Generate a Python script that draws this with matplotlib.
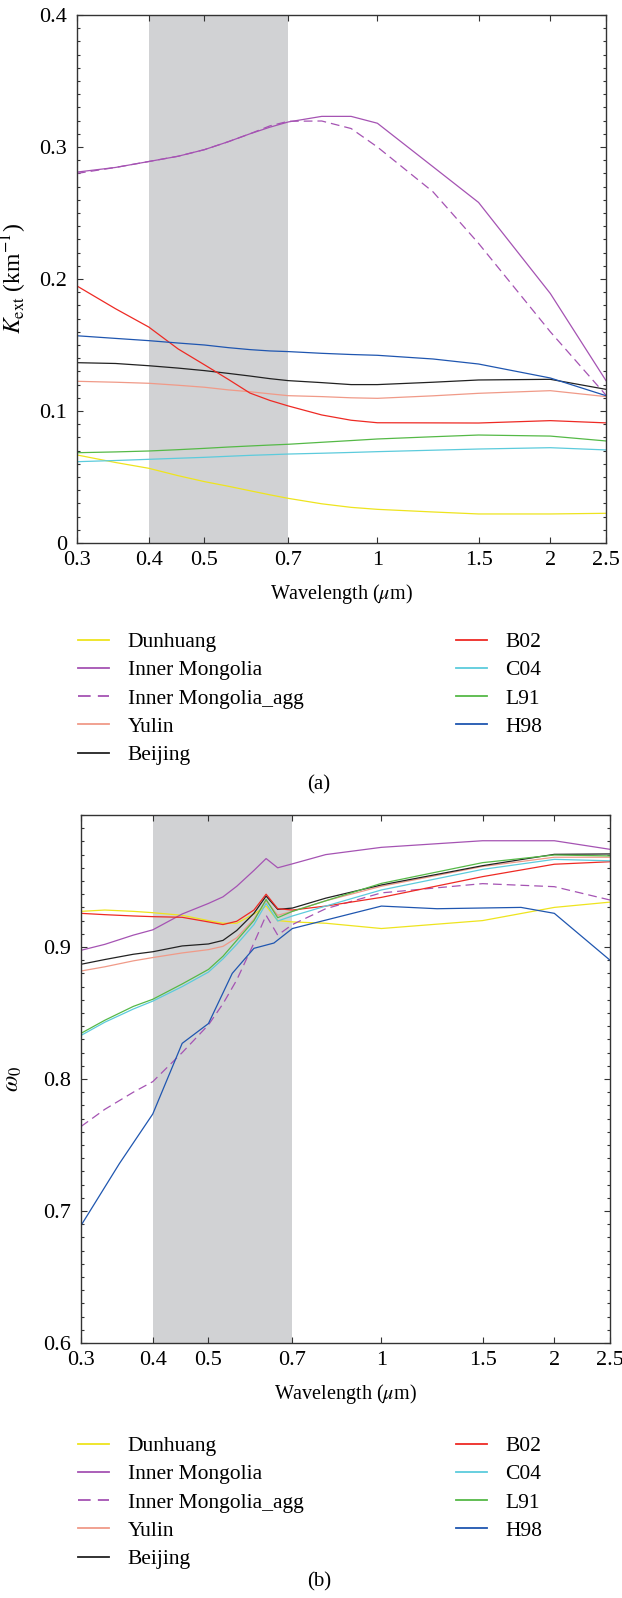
import numpy as np
import matplotlib
matplotlib.use("Agg")
import matplotlib.pyplot as plt
from matplotlib.ticker import MultipleLocator, NullLocator, FixedLocator, FixedFormatter

plt.rcParams['font.family'] = ['Liberation Serif', 'DejaVu Serif']
plt.rcParams['mathtext.fontset'] = 'stix'

# ---- panel (a): extinction coefficient ----
wl_a = [0.3, 0.35, 0.4, 0.45, 0.5, 0.55, 0.6, 0.65, 0.7, 0.8, 0.9, 1.0, 1.25, 1.5, 2.0, 2.5]
kext_dunhuang = [0.0667, 0.061, 0.0566, 0.051, 0.0465, 0.043, 0.0396, 0.0365, 0.0338, 0.0297, 0.027, 0.0255, 0.0235, 0.022, 0.022, 0.0225]
kext_inner = [0.281, 0.2845, 0.289, 0.293, 0.298, 0.304, 0.310, 0.315, 0.319, 0.3232, 0.3232, 0.318, 0.285, 0.258, 0.189, 0.123]
kext_inner_agg = [0.280, 0.2845, 0.289, 0.293, 0.298, 0.304, 0.310, 0.316, 0.3195, 0.3197, 0.314, 0.300, 0.266, 0.227, 0.160, 0.112]
kext_yulin = [0.1225, 0.1218, 0.121, 0.1195, 0.118, 0.116, 0.1146, 0.113, 0.1116, 0.1109, 0.110, 0.1096, 0.1115, 0.1134, 0.1154, 0.1109]
kext_beijing = [0.1366, 0.136, 0.1343, 0.1325, 0.1306, 0.1285, 0.1265, 0.1245, 0.123, 0.1215, 0.120, 0.120, 0.1218, 0.1235, 0.124, 0.1164]
kext_b02 = [0.1947, 0.1775, 0.1636, 0.147, 0.135, 0.124, 0.1136, 0.108, 0.1038, 0.097, 0.093, 0.0911, 0.091, 0.0909, 0.0927, 0.091]
kext_c04 = [0.0616, 0.0625, 0.0634, 0.0642, 0.0649, 0.0657, 0.0664, 0.0669, 0.0674, 0.068, 0.0686, 0.0692, 0.0703, 0.0712, 0.0722, 0.0705]
kext_l91 = [0.0684, 0.069, 0.0697, 0.0707, 0.0717, 0.0727, 0.0735, 0.0742, 0.0748, 0.0763, 0.0776, 0.0788, 0.0805, 0.0818, 0.081, 0.0773]
kext_h98 = [0.157, 0.155, 0.1533, 0.1515, 0.150, 0.148, 0.1465, 0.1455, 0.145, 0.1437, 0.1428, 0.1422, 0.1394, 0.1356, 0.125, 0.1116]

# ---- panel (b): single scattering albedo ----
wl_b = [0.3, 0.33, 0.37, 0.4, 0.45, 0.5, 0.53, 0.56, 0.6, 0.63, 0.66, 0.7, 0.8, 1.0, 1.5, 2.0, 2.5]
w0_dunhuang = [0.927, 0.928, 0.927, 0.926, 0.924, 0.920, 0.918, 0.918, 0.925, 0.931, 0.920, 0.919, 0.918, 0.914, 0.920, 0.930, 0.934]
w0_inner = [0.8975, 0.902, 0.909, 0.913, 0.925, 0.933, 0.938, 0.946, 0.958, 0.967, 0.960, 0.963, 0.970, 0.9755, 0.9805, 0.9805, 0.974]
w0_inner_agg = [0.764, 0.777, 0.790, 0.798, 0.820, 0.841, 0.857, 0.875, 0.903, 0.924, 0.909, 0.917, 0.929, 0.941, 0.948, 0.9457, 0.9356]
w0_yulin = [0.8818, 0.885, 0.8895, 0.892, 0.8955, 0.898, 0.9005, 0.907, 0.921, 0.935, 0.924, 0.927, 0.935, 0.946, 0.961, 0.968, 0.968]
w0_beijing = [0.8869, 0.8905, 0.8945, 0.8964, 0.9008, 0.9023, 0.905, 0.9125, 0.9255, 0.9386, 0.9285, 0.9295, 0.937, 0.947, 0.9616, 0.9702, 0.9705]
w0_b02 = [0.9255, 0.9245, 0.9235, 0.923, 0.9225, 0.919, 0.917, 0.9195, 0.928, 0.940, 0.929, 0.928, 0.931, 0.9376, 0.9533, 0.9627, 0.9646]
w0_c04 = [0.833, 0.843, 0.853, 0.859, 0.870, 0.881, 0.891, 0.902, 0.917, 0.933, 0.9197, 0.9235, 0.931, 0.9432, 0.9588, 0.9664, 0.9653]
w0_l91 = [0.8346, 0.8445, 0.855, 0.8604, 0.872, 0.883, 0.893, 0.905, 0.920, 0.936, 0.9222, 0.927, 0.935, 0.9482, 0.9639, 0.9697, 0.969]
wl_h98_b = [0.3, 0.35, 0.4, 0.45, 0.5, 0.55, 0.6, 0.65, 0.7, 1.0, 1.25, 1.75, 2.0, 2.5]
w0_h98 = [0.689, 0.736, 0.7735, 0.827, 0.842, 0.880, 0.899, 0.903, 0.914, 0.931, 0.929, 0.930, 0.9255, 0.890]

labels = ['Dunhuang', 'Inner Mongolia', 'Inner Mongolia_agg', 'Yulin', 'Beijing',
          'B02', 'C04', 'L91', 'H98']
colors = ['#eee41e', '#a553b3', '#a553b3', '#f09a88', '#222222',
          '#ee2a24', '#5ccbdc', '#55b947', '#1f56b0']
styles = ['-', '-', '--', '-', '-', '-', '-', '-', '-']

xticks = [0.3, 0.4, 0.5, 0.7, 1, 1.5, 2, 2.5]
xticklabels = ['0.3', '0.4', '0.5', '0.7', '1', '1.5', '2', '2.5']

fig = plt.figure(figsize=(6.22, 15.98), dpi=100)
ax_a = fig.add_axes([77/622, 1-543/1598, 529/622, 528/1598])
ax_b = fig.add_axes([81/622, 1-1343/1598, 529/622, 528/1598])

series_a = [kext_dunhuang, kext_inner, kext_inner_agg, kext_yulin, kext_beijing,
            kext_b02, kext_c04, kext_l91, kext_h98]
series_b = [w0_dunhuang, w0_inner, w0_inner_agg, w0_yulin, w0_beijing,
            w0_b02, w0_c04, w0_l91, w0_h98]
xs_b = [wl_b] * 8 + [wl_h98_b]


def style_axis(ax, ylim, ymajor, ylabels):
    ax.axvspan(0.4, 0.7, color='#d1d2d4', lw=0, zorder=0)
    ax.set_xscale('log')
    ax.set_xlim(0.3, 2.5)
    ax.set_ylim(*ylim)
    ax.xaxis.set_major_locator(FixedLocator(xticks))
    ax.xaxis.set_major_formatter(FixedFormatter(xticklabels))
    ax.xaxis.set_minor_locator(NullLocator())
    ax.set_yticks(ymajor)
    ax.set_yticklabels(ylabels)
    ax.yaxis.set_minor_locator(MultipleLocator(0.01))
    ax.tick_params(which='both', direction='in', top=True, right=True,
                   color='#333333', width=0.8, labelsize=16)
    ax.tick_params(which='major', length=4)
    ax.tick_params(which='minor', length=2.5)
    ax.tick_params(axis='y', pad=7)
    ax.tick_params(axis='x', pad=6)
    for sp in ax.spines.values():
        sp.set_color('#333333')
        sp.set_linewidth(1.0)
    ax.set_xlabel(r'Wavelength ($\mu$m)', fontsize=14.5)
    ax.xaxis.set_label_coords(0.5, -0.074)


for y, lab, c, ls in zip(series_a, labels, colors, styles):
    kw = dict(dashes=(7, 4)) if ls == '--' else {}
    ax_a.plot(wl_a, y, color=c, lw=0.9, ls=ls, label=lab, **kw)
style_axis(ax_a, (0, 0.4), [0, 0.1, 0.2, 0.3, 0.4], ['0', '0.1', '0.2', '0.3', '0.4'])
ax_a.set_ylabel(r'$K_{\mathrm{ext}}$ (km$^{-1}$)', fontsize=17)
ax_a.yaxis.set_label_coords(-0.09, 0.5)

for x, y, lab, c, ls in zip(xs_b, series_b, labels, colors, styles):
    kw = dict(dashes=(7, 4)) if ls == '--' else {}
    ax_b.plot(x, y, color=c, lw=0.9, ls=ls, label=lab, **kw)
style_axis(ax_b, (0.6, 1.0), [0.6, 0.7, 0.8, 0.9], ['0.6', '0.7', '0.8', '0.9'])
ax_b.set_ylabel(r'$\omega_0$', fontsize=17)
ax_b.yaxis.set_label_coords(-0.108, 0.5)

for ax, ytop in [(ax_a, 632), (ax_b, 1436)]:
    leg = ax.legend(loc='upper left', bbox_to_anchor=(78/622, 1-ytop/1598),
                    bbox_transform=fig.transFigure, ncol=2, frameon=False,
                    fontsize=15.5, handlelength=1.44, handletextpad=0.86,
                    labelspacing=0.38, columnspacing=7.1, borderpad=0,
                    borderaxespad=0)
    for h in leg.get_lines():
        h.set_linewidth(1.3)

fig.text(319/622, 1-785/1598, '(a)', ha='center', va='center', fontsize=15)
fig.text(319/622, 1-1582/1598, '(b)', ha='center', va='center', fontsize=15)

fig.savefig('out.png', dpi=100)
